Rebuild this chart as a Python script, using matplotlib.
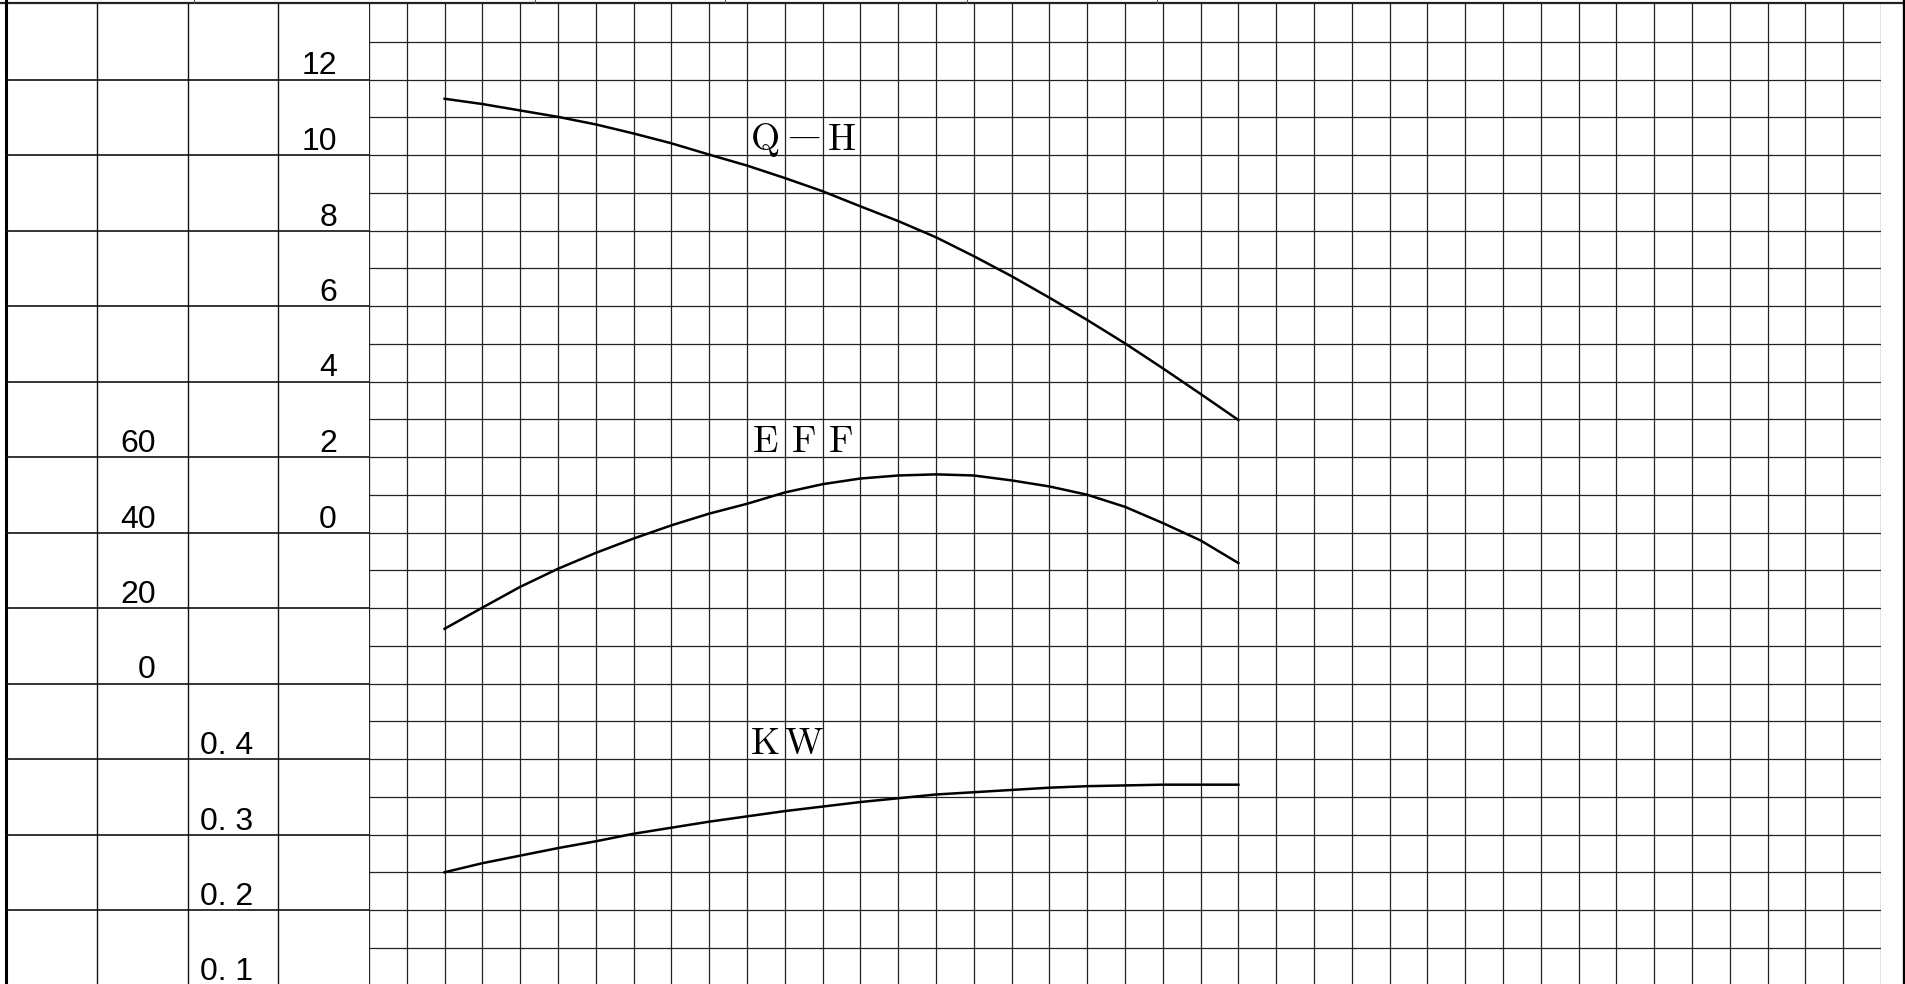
import matplotlib
matplotlib.use("Agg")
import matplotlib.pyplot as plt

# --- data (flow in grid columns) ---
flow = [2, 3, 4, 5, 6, 7, 8, 9, 10, 11, 12, 13, 14, 15, 16, 17, 18, 19, 20, 21, 22, 23]
head = [11.49, 11.35, 11.18, 11.01, 10.81, 10.57, 10.31, 10.01, 9.72, 9.39, 9.04,
        8.64, 8.25, 7.82, 7.32, 6.79, 6.22, 5.63, 5.01, 4.35, 3.67, 2.98]
eff = [14.5, 20.1, 25.6, 30.4, 34.6, 38.4, 41.9, 45.0, 47.6, 50.6, 52.8,
       54.3, 55.1, 55.4, 55.1, 53.8, 52.2, 50.0, 46.8, 42.5, 37.9, 31.9]
kw = [0.250, 0.262, 0.272, 0.282, 0.291, 0.301, 0.309, 0.317, 0.324, 0.331, 0.337,
      0.343, 0.348, 0.353, 0.356, 0.359, 0.362, 0.364, 0.365, 0.366, 0.366, 0.366]

head_ticks = [12, 10, 8, 6, 4, 2, 0]
eff_ticks = [60, 40, 20, 0]
kw_ticks = [0.4, 0.3, 0.2, 0.1]

curve_names = ["Q—H", "EFF", "KW"]

# --- layout (pixels) ---
W, H = 1905, 984
DPI = 100
TOP = 4
GRID_L, GRID_R = 369, 1881
TAB_L = 6
NCOLS = 40
CELL_Y = 37.75
NROWS = (H - TOP) / CELL_Y
COL_W = (GRID_L - TAB_L) / 4

# each scale maps a value to a grid-line index counted from the top
def head_line(v):
    return 14 - v

def eff_line(v):
    return 18 - v / 10

def kw_line(v):
    return 28 - v / 0.05

fig = plt.figure(figsize=(W / DPI, H / DPI), dpi=DPI)
fig.patch.set_facecolor("white")

# frame drawn in pixel coords
bg = fig.add_axes([0, 0, 1, 1])
bg.set_xlim(0, W)
bg.set_ylim(H, 0)
bg.axis("off")
bg.plot([0, W], [2.5, 2.5], color="#222", lw=1.6)
bg.plot([TAB_L, TAB_L], [0, H], color="black", lw=2.2)
bg.plot([W - 1.5, W - 1.5], [0, H], color="black", lw=2.4)
for tx in [194, 535, 725, 967, 1157]:
    bg.plot([tx, tx], [0, 3], color="#555", lw=0.8)

axh = (H - TOP) / H
# left scale table
tab = fig.add_axes([TAB_L / W, 0, (GRID_L - TAB_L) / W, axh])
tab.set_xlim(0, 4)
tab.set_ylim(NROWS, 0)
tab.axis("off")
for r in range(2, 27, 2):
    tab.plot([0, 4], [r, r], color="#111", lw=1.2)
for c in range(1, 4):
    tab.plot([c, c], [0, NROWS], color="#111", lw=1.0)

num_font = ["Liberation Sans", "DejaVu Sans"]
row_off = 5 / CELL_Y
for col, pad, ticks, fn, fmt in [(3, 32, head_ticks, head_line, lambda v: f"{v}"),
                                  (1, 32, eff_ticks, eff_line, lambda v: f"{v}"),
                                  (2, 25, kw_ticks, kw_line, lambda v: f"{v:.1f}".replace(".", ". "))]:
    for v in ticks:
        tab.text(col + 1 - pad / COL_W, fn(v) - row_off, fmt(v), ha="right", va="baseline",
                 fontsize=23, family=num_font, color="black")

# main grid
ax = fig.add_axes([GRID_L / W, 0, (GRID_R - GRID_L) / W, axh])
ax.set_xlim(0, NCOLS)
ax.set_ylim(NROWS, 0)
ax.axis("off")
for c in range(0, NCOLS + 1):
    ax.plot([c, c], [0, NROWS], color="#222", lw=0.9)
for r in range(1, int(NROWS) + 1):
    ax.plot([0, NCOLS], [r, r], color="#222", lw=0.9)

ax.plot(flow, [head_line(v) for v in head], color="black", lw=1.8)
ax.plot(flow, [eff_line(v) for v in eff], color="black", lw=1.8)
ax.plot(flow, [kw_line(v) for v in kw], color="black", lw=1.8)

# curve names, one character per grid cell
name_rows = [3, 11, 19]
for name, row in zip(curve_names, name_rows):
    for i, ch in enumerate(name):
        if ch == "—":
            ax.text(10 + i + 0.5, row + 0.56, ch, ha="center", va="center",
                    fontsize=21, family=["Liberation Serif", "DejaVu Serif"], color="black")
            continue
        ax.text(10 + i + 0.5, row + 0.86, ch, ha="center", va="baseline",
                fontsize=27, family=["cmr10", "DejaVu Serif"], color="black")

fig.savefig("out.png", dpi=DPI, facecolor="white")
